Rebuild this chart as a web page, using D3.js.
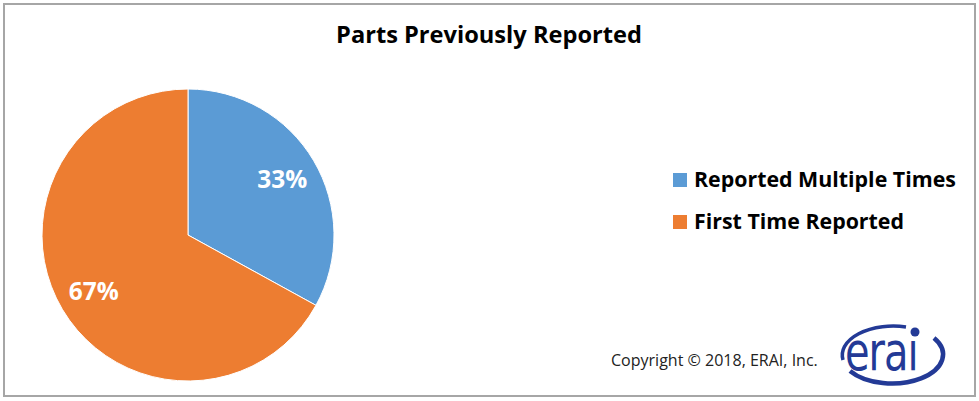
<!DOCTYPE html>
<html><head><meta charset="utf-8">
<script src="https://cdn.jsdelivr.net/npm/d3@7"></script>
<style>body{margin:0;background:#fff}svg{display:block}</style>
</head><body>
<svg id="c" width="979" height="401"></svg>
<script>
const categories = ["Reported Multiple Times", "First Time Reported"];
const values = [33, 67];
const colors = ["#5b9bd5", "#ed7d31"];
const title = "Parts Previously Reported";
const copyright = "Copyright \u00a9 2018, ERAI, Inc.";

const svg = d3.select("#c");
const font = "'Open Sans', Lato, sans-serif";

// scale font-size so the text reaches a target width
function fit(sel, target) {
  const w = sel.node().getComputedTextLength();
  const fs = parseFloat(sel.attr("font-size"));
  sel.attr("font-size", fs * target / w);
  return fs * target / w;
}

// frame
svg.append("rect").attr("x", 4).attr("y", 4).attr("width", 971).attr("height", 392)
  .attr("fill", "#fff").attr("stroke", "#a6a6a6").attr("stroke-width", 2);

const t = svg.append("text").attr("x", 489).attr("y", 43).attr("text-anchor", "middle")
  .attr("font-family", font).attr("font-weight", "bold").attr("font-size", 20)
  .attr("fill", "#000").text(title);
fit(t, 306);

const cx = 188, cy = 235, r = 146;
const pie = d3.pie().sort(null).value(d => d)(values);
const arc = d3.arc().innerRadius(0).outerRadius(r);
const labelArc = d3.arc().innerRadius(r * 0.75).outerRadius(r * 0.75);
const g = svg.append("g").attr("transform", `translate(${cx},${cy})`);
g.selectAll("path").data(pie).join("path")
  .attr("d", arc).attr("fill", (d, i) => colors[i])
  .attr("stroke", "#fff").attr("stroke-width", 1);
const lbl = g.selectAll("text").data(pie).join("text")
  .attr("transform", d => `translate(${labelArc.centroid(d)})`)
  .attr("text-anchor", "middle").attr("dy", "0.36em")
  .attr("font-family", font).attr("font-weight", "bold").attr("font-size", 20)
  .attr("fill", "#fff").text(d => d.data + "%");
const lfs = fit(d3.select(lbl.nodes()[0]), 50);
lbl.attr("font-size", lfs);

// legend
const leg = svg.append("g").attr("transform", "translate(673,173)");
const items = leg.selectAll("g").data(categories).join("g")
  .attr("transform", (d, i) => `translate(0,${i * 42})`);
items.append("rect").attr("width", 14).attr("height", 14).attr("fill", (d, i) => colors[i]);
const ltxt = items.append("text").attr("x", 21).attr("y", 13.5)
  .attr("font-family", font).attr("font-weight", "bold").attr("font-size", 20)
  .attr("fill", "#000").text(d => d);
const legfs = fit(d3.select(ltxt.nodes()[0]), 262);
ltxt.attr("font-size", legfs);

const cp = svg.append("text").attr("x", 611).attr("y", 366)
  .attr("font-family", font).attr("font-size", 13).attr("fill", "#222").text(copyright);
fit(cp, 207);

// ERAI logo
const blue = "#233a96";
const logo = svg.append("g").attr("transform", "translate(894,356)");
logo.append("path")
  .attr("d", "M -51 4 A 51 29 0 0 1 12 -29")
  .attr("fill", "none").attr("stroke", blue).attr("stroke-width", 3.5);
logo.append("path")
  .attr("d", "M 40 -18 A 51 29 0 0 1 -44 15")
  .attr("fill", "none").attr("stroke", blue).attr("stroke-width", 4.5);
logo.append("circle").attr("cx", 21).attr("cy", -24).attr("r", 4.5).attr("fill", blue);
const lt = logo.append("text").attr("x", 0).attr("y", 0)
  .attr("transform", "translate(-49,14) scale(1,1.35)")
  .attr("font-family", "'DejaVu Sans', sans-serif").attr("font-size", 40).attr("letter-spacing", -1)
  .attr("fill", blue).text("era\u0131");
</script>
</body></html>
